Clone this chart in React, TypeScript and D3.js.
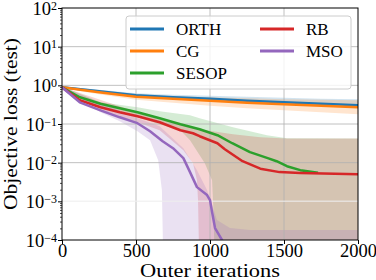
import { useEffect, useRef } from "react";
import * as d3 from "d3";

// ORTH / CG share one iteration grid
const iters = [0, 250, 500, 750, 1000, 1250, 1500, 1750, 2000];
const orth = [0.888, 0.7, 0.552, 0.49, 0.448, 0.398, 0.364, 0.333, 0.305];
const orthHi = [0.942, 0.765, 0.622, 0.569, 0.536, 0.505, 0.476, 0.448, 0.435];
const orthLo = [0.837, 0.641, 0.505, 0.435, 0.398, 0.364, 0.333, 0.305, 0.279];
const cg = [0.888, 0.66, 0.505, 0.448, 0.398, 0.353, 0.323, 0.296, 0.271];
const cgHi = [0.942, 0.743, 0.586, 0.52, 0.49, 0.462, 0.435, 0.422, 0.41];
const cgLo = [0.837, 0.586, 0.422, 0.353, 0.296, 0.255, 0.226, 0.201, 0.179];

// SESOP
const sesopIt = [0, 120, 260, 390, 510, 660, 800, 930, 1050, 1150, 1270, 1390, 1450, 1520, 1610, 1730];
const sesop = [0.888, 0.49, 0.333, 0.255, 0.201, 0.141, 0.0986, 0.0732, 0.0513, 0.0318, 0.0187, 0.0131, 0.0109, 0.0081, 0.0064, 0.0055];
const sesopHiIt = [0, 260, 510, 660, 865, 930, 1155, 1385, 1520, 2000];
const sesopHi = [0.942, 0.364, 0.271, 0.213, 0.168, 0.141, 0.0824, 0.0513, 0.0429, 0.042];
const sesopLoIt = [0, 260, 510, 660, 800, 865, 965, 1014, 1024, 1030, 2000];
const sesopLo = [0.837, 0.255, 0.149, 0.0986, 0.069, 0.0381, 0.0097, 0.0035, 0.0005, 0.00005, 0.00005];

// RB
const rbIt = [0, 120, 260, 390, 510, 660, 800, 885, 930, 1050, 1100, 1220, 1340, 1470, 1610, 2000];
const rb = [0.888, 0.41, 0.271, 0.201, 0.158, 0.111, 0.069, 0.0577, 0.0483, 0.0318, 0.0223, 0.0109, 0.007, 0.0057, 0.0054, 0.005];
const rbHiIt = [0, 510, 930, 1155, 1340, 1520, 2000];
const rbHi = [0.91, 0.201, 0.0732, 0.0543, 0.0455, 0.042, 0.042];
const rbLoIt = [0, 260, 510, 660, 820, 885, 912, 919, 926, 2000];
const rbLo = [0.837, 0.226, 0.111, 0.069, 0.021, 0.0097, 0.0035, 0.00108, 0.00005, 0.00005];

// MSO
const msoIt = [0, 120, 260, 390, 510, 595, 680, 750, 820, 865, 912, 980, 1000, 1014, 1034, 1081, 1135];
const mso = [0.888, 0.364, 0.226, 0.149, 0.105, 0.065, 0.0359, 0.0237, 0.0131, 0.0057, 0.00233, 0.00145, 0.00108, 0.00053, 0.000204, 0.0001, 0.000041];
const msoHiIt = [0, 510, 660, 820, 912, 980, 1014, 1047, 1135, 1270, 2000];
const msoHi = [0.9, 0.141, 0.0875, 0.0237, 0.0064, 0.00195, 0.0008, 0.00033, 0.000204, 0.000181, 0.000181];
const msoLoIt = [0, 260, 390, 510, 595, 650, 675, 683, 2000];
const msoLo = [0.837, 0.201, 0.118, 0.065, 0.0381, 0.0116, 0.00195, 0.00005, 0.00005];

const names = ["ORTH", "CG", "SESOP", "RB", "MSO"];
const colors = ["#1f77b4", "#ff7f0e", "#2ca02c", "#d62728", "#9467bd"];
const xTicks = [0, 500, 1000, 1500, 2000];
const yExps = [2, 1, 0, -1, -2, -3, -4];

const series = [
  { it: iters, v: orth, hiIt: iters, hi: orthHi, loIt: iters, lo: orthLo },
  { it: iters, v: cg, hiIt: iters, hi: cgHi, loIt: iters, lo: cgLo },
  { it: sesopIt, v: sesop, hiIt: sesopHiIt, hi: sesopHi, loIt: sesopLoIt, lo: sesopLo },
  { it: rbIt, v: rb, hiIt: rbHiIt, hi: rbHi, loIt: rbLoIt, lo: rbLo },
  { it: msoIt, v: mso, hiIt: msoHiIt, hi: msoHi, loIt: msoLoIt, lo: msoLo },
];

export default function App() {
  const ref = useRef<SVGSVGElement>(null);

  useEffect(() => {
    if (!ref.current) return;
    const width = 376;
    const height = 280;
    const marginTop = 8;
    const marginRight = 18;
    const marginBottom = 40;
    const marginLeft = 62;
    const font = "font-family: 'Liberation Serif', serif; font-weight: normal;";

    const svg = d3.select(ref.current);
    svg.selectAll("*").remove();

    const x = d3.scaleLinear().domain([0, 2000]).range([marginLeft, width - marginRight]);
    const y = d3.scaleLog().domain([1e-4, 1e2]).range([height - marginBottom, marginTop]);

    svg
      .append("defs")
      .append("clipPath")
      .attr("id", "plotclip")
      .append("rect")
      .attr("x", marginLeft)
      .attr("y", marginTop)
      .attr("width", width - marginLeft - marginRight)
      .attr("height", height - marginTop - marginBottom);

    const line = d3
      .line<[number, number]>()
      .x((d) => x(d[0]))
      .y((d) => y(d[1]));

    // shaded bands first
    const bands = svg.append("g").attr("clip-path", "url(#plotclip)");
    series.forEach((s, i) => {
      const upper = s.hiIt.map((t, j) => [t, s.hi[j]] as [number, number]);
      const lower = s.loIt.map((t, j) => [t, s.lo[j]] as [number, number]).reverse();
      bands
        .append("path")
        .attr("d", line([...upper, ...lower]) + "Z")
        .attr("fill", colors[i])
        .attr("fill-opacity", 0.2);
    });

    // grid
    const grid = svg.append("g").attr("stroke", "#b0b0b0").attr("stroke-width", 0.8);
    grid
      .selectAll("line.gx")
      .data(xTicks.slice(1, -1))
      .join("line")
      .attr("x1", (d) => x(d))
      .attr("x2", (d) => x(d))
      .attr("y1", marginTop)
      .attr("y2", height - marginBottom);
    grid
      .selectAll("line.gy")
      .data(yExps.filter((e) => e !== 2 && e !== -4 && e !== -3))
      .join("line")
      .attr("x1", marginLeft)
      .attr("x2", width - marginRight)
      .attr("y1", (d) => y(Math.pow(10, d)))
      .attr("y2", (d) => y(Math.pow(10, d)));
    svg
      .append("line")
      .attr("x1", marginLeft)
      .attr("x2", width - marginRight)
      .attr("y1", y(1e-3))
      .attr("y2", y(1e-3))
      .attr("stroke", "#eeeeee")
      .attr("stroke-opacity", 0.7)
      .attr("stroke-width", 1.5);

    // lines
    const lines = svg.append("g").attr("clip-path", "url(#plotclip)");
    series.forEach((s, i) => {
      lines
        .append("path")
        .attr("d", line(s.it.map((t, j) => [t, s.v[j]] as [number, number])))
        .attr("fill", "none")
        .attr("stroke", colors[i])
        .attr("stroke-width", 2.5)
        .attr("stroke-linejoin", "round");
    });

    // spines
    svg
      .append("rect")
      .attr("x", marginLeft)
      .attr("y", marginTop)
      .attr("width", width - marginLeft - marginRight)
      .attr("height", height - marginTop - marginBottom)
      .attr("fill", "none")
      .attr("stroke", "black")
      .attr("stroke-width", 1);

    // x axis
    svg
      .append("g")
      .attr("transform", `translate(0,${height - marginBottom})`)
      .call(d3.axisBottom(x).tickValues(xTicks).tickSize(4).tickFormat(d3.format("d")))
      .call((g) => g.select(".domain").remove())
      .call((g) => g.attr("font-family", null).attr("font-size", null))
      .call((g) =>
        g
          .selectAll("text")
          .attr("y", 17)
          .attr("dy", null)
          .attr("style", font + " font-size: 18.5px;")
          .attr("fill", "black")
      );

    // y axis: major + minor ticks
    const minors: number[] = [];
    for (let e = -4; e < 2; e++) for (let m = 2; m <= 9; m++) minors.push(m * Math.pow(10, e));
    svg
      .append("g")
      .attr("transform", `translate(${marginLeft},0)`)
      .call(d3.axisLeft(y).tickValues(yExps.map((e) => Math.pow(10, e))).tickSize(4).tickFormat(() => ""))
      .call((g) => g.select(".domain").remove());
    svg
      .append("g")
      .attr("transform", `translate(${marginLeft},0)`)
      .call(d3.axisLeft(y).tickValues(minors).tickSize(2).tickFormat(() => ""))
      .call((g) => g.select(".domain").remove())
      .call((g) => g.selectAll("line").attr("stroke-width", 0.7));

    const yl = svg
      .append("g")
      .selectAll("text")
      .data(yExps)
      .join("text")
      .attr("x", 57)
      .attr("y", (d) => y(Math.pow(10, d)) + 7)
      .attr("text-anchor", "end")
      .attr("style", font + " font-size: 18.5px;");
    yl.append("tspan").text("10");
    yl.append("tspan")
      .attr("dy", -5.5)
      .attr("style", "font-size: 12px;")
      .text((d) => (d < 0 ? "\u2212" + Math.abs(d) : String(d)));

    // axis labels
    svg
      .append("text")
      .attr("x", (marginLeft + width - marginRight) / 2)
      .attr("y", 277)
      .attr("text-anchor", "middle")
      .attr("style", font + " font-size: 19px;")
      .attr("textLength", 140)
      .attr("lengthAdjust", "spacingAndGlyphs")
      .text("Outer iterations");
    svg
      .append("text")
      .attr("transform", `translate(16.5,${(marginTop + height - marginBottom) / 2}) rotate(-90)`)
      .attr("text-anchor", "middle")
      .attr("style", font + " font-size: 18.5px;")
      .attr("textLength", 172)
      .attr("lengthAdjust", "spacingAndGlyphs")
      .text("Objective loss (test)");

    // legend
    const lg = svg.append("g");
    lg.append("rect")
      .attr("x", 126)
      .attr("y", 16)
      .attr("width", 225)
      .attr("height", 73)
      .attr("rx", 3)
      .attr("fill", "white")
      .attr("fill-opacity", 0.8)
      .attr("stroke", "#cccccc")
      .attr("stroke-width", 1);
    const item = lg
      .selectAll("g")
      .data(names)
      .join("g")
      .attr("transform", (_, i) => `translate(${i < 3 ? 130 : 260},${29 + (i % 3) * 22})`);
    item
      .append("line")
      .attr("x1", 0)
      .attr("x2", 34)
      .attr("stroke", (_, i) => colors[i])
      .attr("stroke-width", 3);
    item
      .append("text")
      .attr("x", 46)
      .attr("y", 6)
      .attr("style", font + " font-size: 17px;")
      .text((d) => d);
  }, []);

  return (
    <svg
      ref={ref}
      width={376}
      height={280}
      style={{ position: "absolute", left: 0, top: 0, background: "white" }}
    />
  );
}
